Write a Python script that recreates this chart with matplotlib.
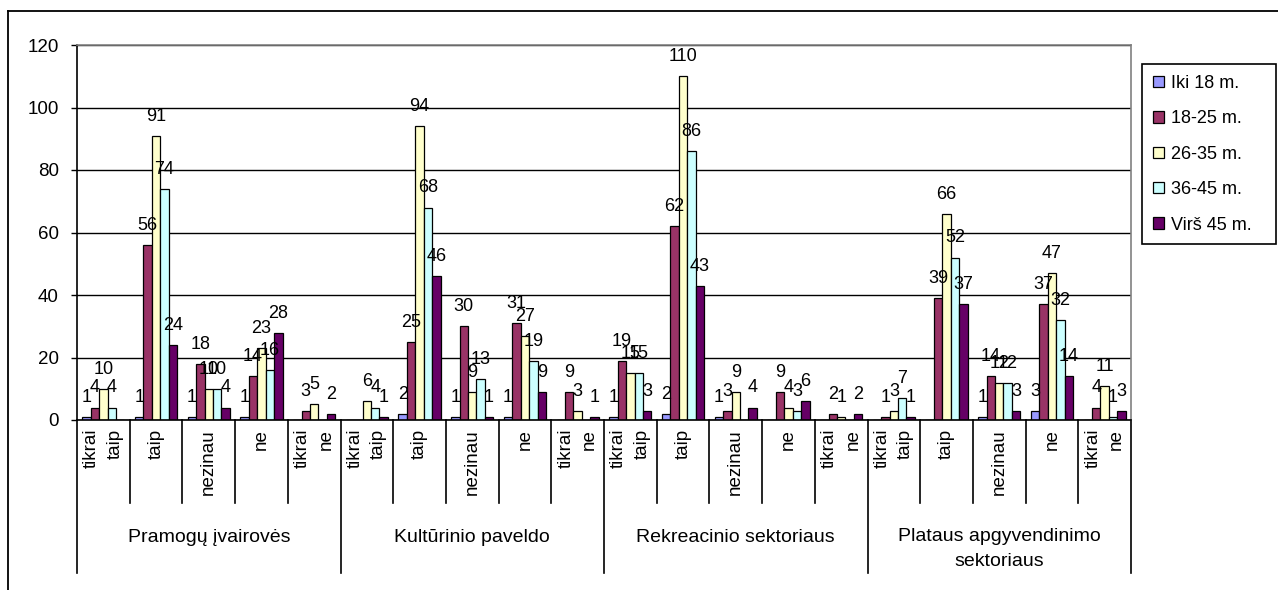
import numpy as np
import matplotlib
matplotlib.use("Agg")
import matplotlib.pyplot as plt
from matplotlib.lines import Line2D
import matplotlib.transforms as mtransforms

plt.rcParams['font.family'] = ['Liberation Sans', 'DejaVu Sans']

# ---- data -------------------------------------------------------------
groups = ["Pramogų įvairovės", "Kultūrinio paveldo", "Rekreacinio sektoriaus",
          "Plataus apgyvendinimo\nsektoriaus"]
answers = ["tikrai\ntaip", "taip", "nezinau", "ne", "tikrai\nne"]
series = ["Iki 18 m.", "18-25 m.", "26-35 m.", "36-45 m.", "Virš 45 m."]
colors = ["#9999FF", "#993366", "#FFFFCC", "#CCFFFF", "#660066"]

nan = np.nan
# values per answer, four blocks of five answers each
iki_18 = [1, 1, 1, 1, nan,   nan, 2, 1, 1, nan,   1, 2, 1, nan, nan,   nan, nan, 1, 3, nan]
m18_25 = [4, 56, 18, 14, 3,  nan, 25, 30, 31, 9,  19, 62, 3, 9, 2,     1, 39, 14, 37, 4]
m26_35 = [10, 91, 10, 23, 5, 6, 94, 9, 27, 3,     15, 110, 9, 4, 1,    3, 66, 12, 47, 11]
m36_45 = [4, 74, 10, 16, nan, 4, 68, 13, 19, nan, 15, 86, nan, 3, nan, 7, 52, 12, 32, 1]
virs_45 = [nan, 24, 4, 28, 2, 1, 46, 1, 9, 1,     3, 43, 4, 6, 2,      1, 37, 3, 14, 3]
values = [iki_18, m18_25, m26_35, m36_45, virs_45]

yticks = [0, 20, 40, 60, 80, 100, 120]

# ---- figure -------------------------------------------------------------
W, H = 1278, 590
fig = plt.figure(figsize=(W / 100, H / 100), dpi=100)
fig.patch.set_facecolor("white")

ax_left, ax_right, ax_top, ax_bottom = 77, 1131, 45, 420
ax = fig.add_axes([ax_left / W, 1 - ax_bottom / H,
                   (ax_right - ax_left) / W, (ax_bottom - ax_top) / H])

n_cat = len(groups) * len(answers)
x = np.arange(n_cat)
bw = 0.16

bars = []
for i, (name, col, vals) in enumerate(zip(series, colors, values)):
    v = np.array(vals, dtype=float)
    b = ax.bar(x + (i - 2) * bw, np.nan_to_num(v), width=bw, color=col,
               edgecolor="black", linewidth=0.9, label=name, zorder=3)
    bars.append(b)
    for xi, vi in zip(x, v):
        if np.isnan(vi):
            continue
        ax.annotate(f"{int(vi)}", (xi + (i - 2) * bw, vi), xytext=(0, 10.8),
                    textcoords="offset points", ha="center", va="baseline",
                    fontsize=13, color="black", zorder=5)

ax.set_xlim(-0.5, n_cat - 0.5)
ax.set_ylim(0, 120)
ax.set_yticks(yticks)
ax.tick_params(axis="y", direction="out", length=4, width=1, pad=9,
               labelsize=13.5, colors="black")
ax.set_xticks([])
ax.yaxis.grid(True, color="black", linewidth=1, zorder=0)
ax.set_axisbelow(True)

ax.spines["top"].set_color("#808080")
ax.spines["right"].set_color("#808080")
ax.spines["left"].set_color("black")
ax.spines["bottom"].set_color("black")
for s in ax.spines.values():
    s.set_linewidth(1.2)
ax.spines["bottom"].set_zorder(4)

# ---- multi-level category axis -----------------------------------------
trans = mtransforms.blended_transform_factory(ax.transData, ax.transAxes)
ax_h = ax_bottom - ax_top
cat_depth = -(503 - ax_bottom) / ax_h
grp_depth = -(573 - ax_bottom) / ax_h

for k in range(n_cat + 1):
    xb = k - 0.5
    depth = grp_depth if k % len(answers) == 0 else cat_depth
    ax.add_line(Line2D([xb, xb], [0, depth], transform=trans, color="black",
                       linewidth=1.2, clip_on=False))

for k in range(n_cat):
    ax.text(k, -(429 - ax_bottom) / ax_h, answers[k % len(answers)],
            transform=trans, rotation=90, ha="center", va="top",
            multialignment="right", fontsize=13.5, linespacing=1.5)

for g, name in enumerate(groups):
    cx = g * len(answers) + 2
    yc = 537 if "\n" not in name else 549
    ax.text(cx, -(yc - ax_bottom) / ax_h, name, transform=trans,
            ha="center", va="center", fontsize=14, linespacing=1.6)

# ---- legend ---------------------------------------------------------------
leg = fig.legend(handles=bars, labels=series, loc="upper left",
                 bbox_to_anchor=(1142 / W, 1 - 240 / H, 134 / W, 176 / H),
                 mode="expand", fontsize=13, frameon=True, fancybox=False,
                 edgecolor="black", framealpha=1, borderpad=0.6,
                 labelspacing=1.02, handlelength=0.6, handleheight=0.6,
                 handletextpad=0.4, borderaxespad=0)
leg.get_frame().set_linewidth(1.2)

# ---- outer chart border ------------------------------------------------------
fig.add_artist(Line2D([8 / W, 1], [1 - 11 / H, 1 - 11 / H], transform=fig.transFigure,
                      color="black", linewidth=1.3))
fig.add_artist(Line2D([8 / W, 8 / W], [0, 1 - 11 / H], transform=fig.transFigure,
                      color="black", linewidth=1.3))

fig.savefig("out.png", dpi=100, facecolor="white")
